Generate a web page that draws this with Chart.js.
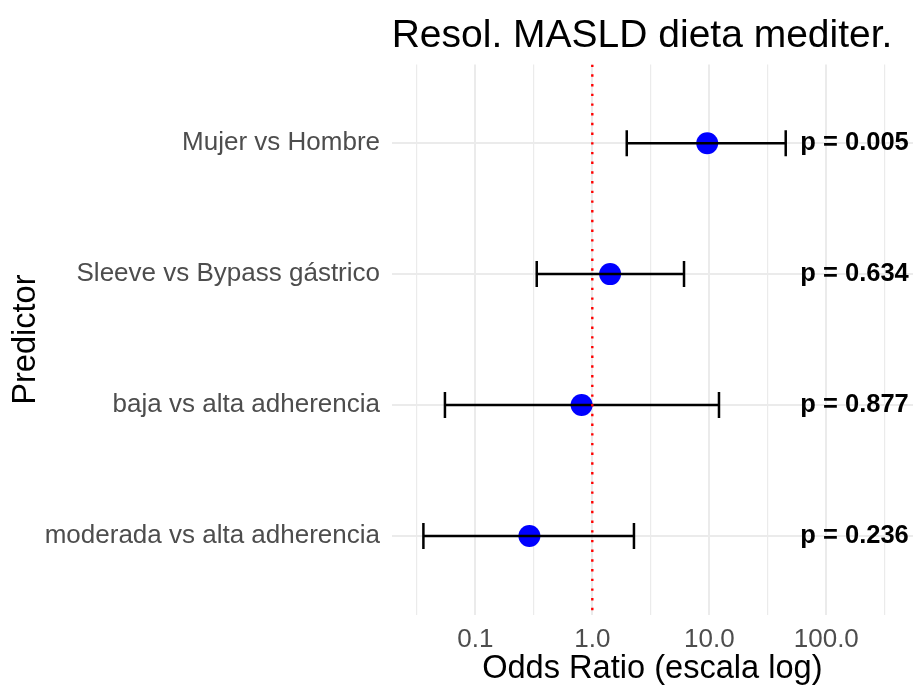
<!DOCTYPE html>
<html>
<head>
<meta charset="utf-8">
<script src="https://cdn.jsdelivr.net/npm/chart.js@4/dist/chart.umd.min.js"></script>
<style>
  html, body { margin: 0; padding: 0; background: #ffffff; }
  #wrap { width: 913px; height: 685px; }
</style>
</head>
<body>
<div id="wrap"><canvas id="forest" width="913" height="685"></canvas></div>
<script>
// Predictors (top to bottom) and their odds ratios with 95% CI
const categories = [
  'Mujer vs Hombre',
  'Sleeve vs Bypass gástrico',
  'baja vs alta adherencia',
  'moderada vs alta adherencia'
];
const oddsRatio = [9.6, 1.42, 0.81, 0.29];
const ciLower   = [1.97, 0.335, 0.055, 0.036];
const ciUpper   = [45.0, 6.08, 12.1, 2.27];
const pLabels   = ['p = 0.005', 'p = 0.634', 'p = 0.877', 'p = 0.236'];

// x-axis breaks (log scale) and their labels
const xMajorTicks = [0.1, 1, 10, 100];
const xTickLabels = ['0.1', '1.0', '10.0', '100.0'];
const xMinorTicks = [0.0316, 0.316, 3.16, 31.6, 316];

const nullOR = 1;          // reference line: no effect
const pLabelX = 60;        // where the p-value column starts
const titleText = 'Resol. MASLD dieta mediter.';

const FONT = "'Liberation Sans', Arial, Helvetica, sans-serif";
const GRID = '#EBEBEB';
const AXIS_TEXT = '#4D4D4D';

const pointData = categories.map((c, i) => ({ x: oddsRatio[i], y: i }));

// horizontal CI bars; the rotated 'line' point style draws the end caps
const ciDatasets = categories.map((c, i) => ({
  type: 'line',
  label: 'IC ' + c,
  data: [{ x: ciLower[i], y: i }, { x: ciUpper[i], y: i }],
  borderColor: '#000000',
  borderWidth: 2.5,
  pointStyle: 'line',
  pointRotation: 90,
  pointRadius: 13,
  pointBorderWidth: 2.5,
  pointBorderColor: '#000000',
  pointHoverRadius: 13,
  order: 1
}));

const refLine = {
  type: 'line',
  label: 'OR = 1',
  data: [{ x: nullOR, y: -0.6 }, { x: nullOR, y: categories.length - 0.4 }],
  borderColor: '#FF0000',
  borderWidth: 2.4,
  borderDash: [2.4, 7.3],
  pointRadius: 0,
  order: 0
};

const titlePlugin = {
  id: 'plotTitle',
  afterDraw(chart) {
    const ctx = chart.ctx;
    ctx.save();
    ctx.font = '39px ' + FONT;
    ctx.fillStyle = '#000000';
    ctx.textAlign = 'left';
    ctx.textBaseline = 'alphabetic';
    ctx.fillText(titleText, chart.chartArea.left, 47);
    ctx.restore();
  }
};

const pValuePlugin = {
  id: 'pValues',
  afterDatasetsDraw(chart) {
    const ctx = chart.ctx;
    const xs = chart.scales.x, ys = chart.scales.y;
    ctx.save();
    ctx.font = 'bold 25.5px ' + FONT;
    ctx.fillStyle = '#000000';
    ctx.textAlign = 'left';
    ctx.textBaseline = 'middle';
    pLabels.forEach((t, i) => {
      ctx.fillText(t, xs.getPixelForValue(pLabelX), ys.getPixelForValue(i));
    });
    ctx.restore();
  }
};

new Chart(document.getElementById('forest'), {
  type: 'scatter',
  data: {
    datasets: [
      refLine,
      ...ciDatasets,
      {
        type: 'scatter',
        label: 'OR',
        data: pointData,
        backgroundColor: '#0000FF',
        borderWidth: 0,
        pointRadius: 11,
        pointHoverRadius: 11,
        order: 2
      }
    ]
  },
  options: {
    responsive: false,
    animation: false,
    devicePixelRatio: 1,
    layout: { autoPadding: false, padding: { top: 64.6, right: 0, bottom: 0, left: 0 } },
    plugins: {
      legend: { display: false },
      tooltip: { enabled: false },
      title: { display: false }
    },
    scales: {
      x: {
        type: 'logarithmic',
        position: 'bottom',
        min: 0.01929,
        max: 551,
        bounds: 'data',
        afterBuildTicks(scale) {
          scale.ticks = [...xMinorTicks, ...xMajorTicks]
            .sort((a, b) => a - b)
            .map(v => ({ value: v, major: xMajorTicks.includes(v) }));
        },
        afterFit(scale) {
          scale.height = 70.4;
          scale.paddingLeft = 0;
          scale.paddingRight = 0;
        },
        border: { display: false },
        grid: {
          drawTicks: false,
          color: GRID,
          lineWidth: ctx => (ctx.tick && xMajorTicks.includes(ctx.tick.value)) ? 2 : 1.2
        },
        ticks: {
          autoSkip: false,
          maxRotation: 0,
          padding: 10,
          color: AXIS_TEXT,
          font: { family: FONT, size: 26 },
          callback: v => {
            const k = xMajorTicks.indexOf(v);
            return k >= 0 ? xTickLabels[k] : '';
          }
        },
        title: {
          display: true,
          text: 'Odds Ratio (escala log)',
          color: '#000000',
          font: { family: FONT, size: 32.6, lineHeight: 1 },
          padding: { top: 0, bottom: 0 }
        }
      },
      y: {
        type: 'linear',
        position: 'left',
        reverse: true,
        min: -0.6,
        max: categories.length - 0.4,
        afterBuildTicks(scale) {
          scale.ticks = categories.map((c, i) => ({ value: i }));
        },
        afterFit(scale) {
          scale.width = 391.7;
          scale.paddingTop = 0;
          scale.paddingBottom = 0;
        },
        border: { display: false },
        grid: { drawTicks: false, color: GRID, lineWidth: 2 },
        ticks: {
          autoSkip: false,
          padding: 11.7,
          color: AXIS_TEXT,
          font: { family: FONT, size: 26 },
          callback: v => categories[v] ?? ''
        },
        title: {
          display: true,
          text: 'Predictor',
          color: '#000000',
          font: { family: FONT, size: 32.6, lineHeight: 1 },
          padding: { top: 10, bottom: 0 }
        }
      }
    }
  },
  plugins: [titlePlugin, pValuePlugin]
});
</script>
</body>
</html>
